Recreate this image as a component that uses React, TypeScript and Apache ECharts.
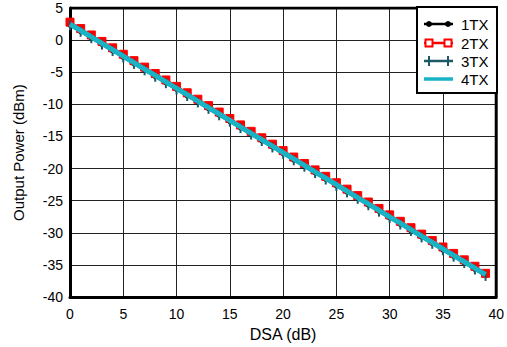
import React, { useEffect, useRef } from "react";
import * as echarts from "echarts";

const dsa = [0,1,2,3,4,5,6,7,8,9,10,11,12,13,14,15,16,17,18,19,20,21,22,23,24,25,26,27,28,29,30,31,32,33,34,35,36,37,38,39];
const tx1 = [2.4,1.4,0.4,-0.6,-1.6,-2.6,-3.6,-4.6,-5.6,-6.6,-7.6,-8.6,-9.6,-10.6,-11.6,-12.6,-13.6,-14.6,-15.6,-16.6,-17.6,-18.6,-19.6,-20.6,-21.6,-22.6,-23.6,-24.6,-25.6,-26.6,-27.6,-28.6,-29.6,-30.6,-31.6,-32.6,-33.6,-34.6,-35.6,-36.6];
const tx2 = [2.8,1.8,0.8,-0.2,-1.2,-2.2,-3.2,-4.2,-5.2,-6.2,-7.2,-8.2,-9.2,-10.2,-11.2,-12.2,-13.2,-14.2,-15.2,-16.2,-17.2,-18.2,-19.2,-20.2,-21.2,-22.2,-23.2,-24.2,-25.2,-26.2,-27.2,-28.2,-29.2,-30.2,-31.2,-32.2,-33.2,-34.2,-35.2,-36.3];
const tx3 = [2.3,1.3,0.3,-0.7,-1.7,-2.7,-3.7,-4.7,-5.7,-6.7,-7.7,-8.7,-9.7,-10.7,-11.7,-12.7,-13.7,-14.7,-15.7,-16.7,-17.7,-18.7,-19.7,-20.7,-21.7,-22.7,-23.7,-24.7,-25.7,-26.7,-27.7,-28.7,-29.7,-30.7,-31.7,-32.7,-33.7,-34.7,-35.7,-36.7];
const tx4 = [2.5,1.5,0.5,-0.5,-1.5,-2.5,-3.5,-4.5,-5.5,-6.5,-7.5,-8.5,-9.5,-10.5,-11.5,-12.5,-13.5,-14.5,-15.5,-16.5,-17.5,-18.5,-19.5,-20.5,-21.5,-22.5,-23.5,-24.5,-25.5,-26.5,-27.5,-28.5,-29.5,-30.5,-31.5,-32.5,-33.5,-34.5,-35.5,-36.5];
const names = ["1TX", "2TX", "3TX", "4TX"];

const FONT = "Liberation Sans, Arial, Helvetica, sans-serif";
const C1 = "#000";
const C2 = "#ff0000";
const C3 = "#1d5866";
const C4 = "#19b3c6";

export default function App() {
  const ref = useRef<HTMLDivElement>(null);
  useEffect(() => {
    const chart = echarts.init(ref.current!, null, { renderer: "svg" });
    const pairs = (ys: number[]) => dsa.map((x, i) => [x, ys[i]]);

    const lx0 = 424, lx1 = 453, tx = 461;
    const rows = [24, 43, 61, 79];
    const legendEls: any[] = [
      { type: "rect", shape: { x: 417, y: 7, width: 80, height: 86 }, style: { fill: "#fff", stroke: "#000", lineWidth: 2 }, z: 100 },
    ];
    const colors = [C1, C2, C3, C4];
    rows.forEach((y, i) => {
      legendEls.push({ type: "line", shape: { x1: lx0, y1: y, x2: lx1, y2: y }, style: { stroke: colors[i], lineWidth: i === 3 ? 3.5 : 2.5 }, z: 101 });
      legendEls.push({ type: "text", x: tx, y, style: { text: names[i], fill: "#000", font: `15px ${FONT}`, textVerticalAlign: "middle" }, z: 101 });
    });
    [lx0 + 5, lx1 - 5].forEach((cx) => {
      legendEls.push({ type: "circle", shape: { cx, cy: rows[0], r: 3 }, style: { fill: C1 }, z: 102 });
      legendEls.push({ type: "rect", shape: { x: cx - 3.5, y: rows[1] - 3.5, width: 7, height: 7 }, style: { fill: "#fff", stroke: C2, lineWidth: 2 }, z: 102 });
      legendEls.push({ type: "rect", shape: { x: cx - 1, y: rows[2] - 5, width: 2, height: 10 }, style: { fill: C3 }, z: 102 });
    });

    chart.setOption({
      animation: false,
      backgroundColor: "#fff",
      textStyle: { fontFamily: FONT },
      grid: { left: 70, right: 9, top: 8, bottom: 48, containLabel: false },
      xAxis: {
        type: "value",
        min: 0,
        max: 40,
        interval: 5,
        name: "DSA (dB)",
        nameLocation: "middle",
        nameGap: 28,
        nameTextStyle: { fontFamily: FONT, fontSize: 16, color: "#000" },
        axisLine: { show: true, onZero: false, lineStyle: { color: "#000", width: 3 } },
        axisTick: { show: false },
        axisLabel: { fontFamily: FONT, fontSize: 14, color: "#000", margin: 10 },
        splitLine: { show: true, lineStyle: { color: "#222", width: 1 } },
      },
      yAxis: {
        type: "value",
        min: -40,
        max: 5,
        interval: 5,
        name: "Output Power (dBm)",
        nameLocation: "middle",
        nameGap: 44,
        nameTextStyle: { fontFamily: FONT, fontSize: 15, color: "#000" },
        axisLine: { show: true, onZero: false, lineStyle: { color: "#000", width: 3 } },
        axisTick: { show: false },
        axisLabel: { fontFamily: FONT, fontSize: 14, color: "#000", margin: 7 },
        splitLine: { show: true, lineStyle: { color: "#222", width: 1 } },
      },
      graphic: legendEls,
      series: [
        {
          name: "1TX",
          type: "line",
          data: pairs(tx1),
          z: 2,
          lineStyle: { color: C1, width: 2 },
          symbol: "circle",
          symbolSize: 6,
          itemStyle: { color: C1 },
        },
        {
          name: "2TX",
          type: "line",
          data: pairs(tx2),
          z: 3,
          lineStyle: { color: C2, width: 2 },
          symbol: "rect",
          symbolSize: 8,
          itemStyle: { color: C2, borderColor: C2, borderWidth: 1 },
        },
        {
          name: "3TX",
          type: "line",
          data: pairs(tx3),
          z: 4,
          lineStyle: { color: C3, width: 2.5 },
          symbol: "rect",
          symbolSize: [2, 10],
          itemStyle: { color: C3 },
        },
        {
          name: "4TX",
          type: "line",
          data: pairs(tx4),
          z: 5,
          lineStyle: { color: C4, width: 5 },
          symbol: "none",
          showSymbol: false,
        },
        {
          type: "line",
          data: [[0, 5], [40, 5], [40, -40]],
          lineStyle: { color: "#000", width: 3 },
          symbol: "none",
          silent: true,
          z: 1,
        },
      ],
    });
    return () => chart.dispose();
  }, []);
  return <div ref={ref} style={{ width: 507, height: 347, position: "absolute", left: 0, top: 0 }} />;
}
